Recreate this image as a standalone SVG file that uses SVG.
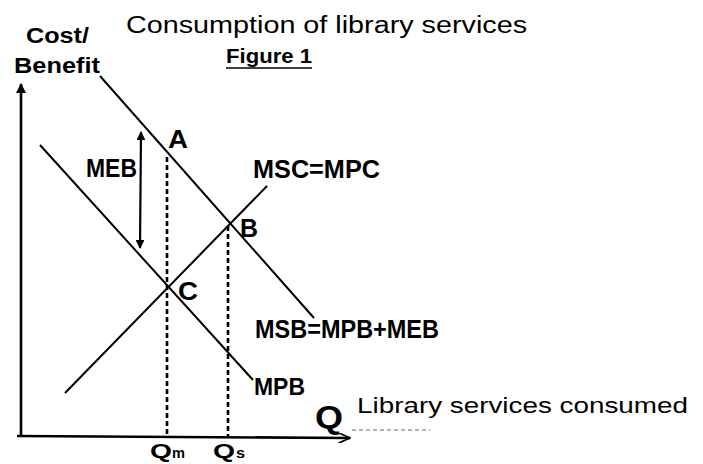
<svg xmlns="http://www.w3.org/2000/svg" width="703" height="464" viewBox="0 0 703 464">
<style>
.ax{stroke:#000;stroke-width:2.6;fill:none}
.cv{stroke:#000;stroke-width:2;fill:none}
.dt{stroke:#000;stroke-width:2.6;fill:none;stroke-dasharray:5 3}
.b{font-family:"Liberation Sans",Arial,sans-serif;font-weight:bold;fill:#000}
.r{font-family:"Liberation Sans",Arial,sans-serif;fill:#000}
</style>
<defs>
<marker id="tri" viewBox="0 0 10 10" refX="9" refY="5" markerWidth="4" markerHeight="4" orient="auto-start-reverse" markerUnits="strokeWidth">
<path d="M0,0 L10,5 L0,10 z" fill="#000"/>
</marker>
<marker id="chev" viewBox="0 0 12 10" refX="11" refY="5" markerWidth="5" markerHeight="4" orient="auto" markerUnits="strokeWidth">
<path d="M0,0 L11,5 L0,10" fill="none" stroke="#000" stroke-width="1.6"/>
</marker>
</defs>
<rect width="703" height="464" fill="#fff"/>
<g id="title">
<text class="r" x="126" y="33" font-size="23" textLength="401" lengthAdjust="spacingAndGlyphs">Consumption of library services</text>
<text class="b" x="226" y="63" font-size="20" textLength="86" lengthAdjust="spacingAndGlyphs">Figure 1</text>
<line x1="226" y1="68" x2="312" y2="68" stroke="#000" stroke-width="1.5"/>
</g>
<g id="axes">
<line class="ax" x1="21" y1="436" x2="21" y2="84" marker-end="url(#tri)"/>
<line class="ax" x1="17" y1="436" x2="350" y2="438" marker-end="url(#chev)"/>
<line x1="352" y1="430" x2="430" y2="430" stroke="#000" stroke-width="1" stroke-dasharray="4 3" opacity="0.6"/>
<text class="b" x="26" y="43" font-size="22" textLength="63" lengthAdjust="spacingAndGlyphs">Cost/</text>
<text class="b" x="14" y="73" font-size="22" textLength="86" lengthAdjust="spacingAndGlyphs">Benefit</text>
<text class="b" x="315" y="428" font-size="32" textLength="28" lengthAdjust="spacingAndGlyphs">Q</text>
<text class="r" x="357" y="413" font-size="22" textLength="331" lengthAdjust="spacingAndGlyphs">Library services consumed</text>
</g>
<g id="connectors">
<line class="cv" x1="100" y1="76" x2="314" y2="318"/>
<line class="cv" x1="40" y1="145" x2="253" y2="380"/>
<line class="cv" x1="65" y1="393" x2="267" y2="186"/>
<line class="dt" x1="167" y1="157" x2="167" y2="436"/>
<line class="dt" x1="228" y1="226" x2="228" y2="436"/>
<line stroke="#000" stroke-width="2.2" x1="141" y1="132" x2="140" y2="248" marker-start="url(#tri)" marker-end="url(#tri)"/>
</g>
<g id="labels">
<text class="b" x="86" y="177" font-size="25" textLength="51" lengthAdjust="spacingAndGlyphs">MEB</text>
<text class="b" x="168" y="148" font-size="26" textLength="20" lengthAdjust="spacingAndGlyphs">A</text>
<text class="b" x="240" y="237" font-size="26" textLength="18" lengthAdjust="spacingAndGlyphs">B</text>
<text class="b" x="178" y="300" font-size="26" textLength="20" lengthAdjust="spacingAndGlyphs">C</text>
<text class="b" x="253" y="178" font-size="25" textLength="127" lengthAdjust="spacingAndGlyphs">MSC=MPC</text>
<text class="b" x="255" y="338" font-size="25" textLength="184" lengthAdjust="spacingAndGlyphs">MSB=MPB+MEB</text>
<text class="b" x="254" y="395" font-size="24" textLength="51" lengthAdjust="spacingAndGlyphs">MPB</text>
<text class="b" x="150" y="458" font-size="20" textLength="22" lengthAdjust="spacingAndGlyphs">Q</text>
<text class="b" x="172" y="458" font-size="14" textLength="13" lengthAdjust="spacingAndGlyphs">m</text>
<text class="b" x="213" y="458" font-size="20" textLength="22" lengthAdjust="spacingAndGlyphs">Q</text>
<text class="b" x="236" y="458" font-size="14" textLength="9" lengthAdjust="spacingAndGlyphs">s</text>
</g>
</svg>
